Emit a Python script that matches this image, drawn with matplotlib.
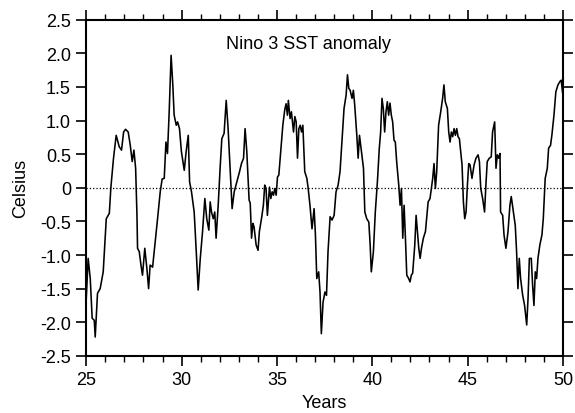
import matplotlib
matplotlib.use("Agg")
import matplotlib.pyplot as plt
from matplotlib.ticker import MultipleLocator

plt.rcParams["font.family"] = ["Liberation Sans", "DejaVu Sans"]

# Data: Nino 3 SST anomaly, model years 25-50
years = [
    25.00, 25.10, 25.21, 25.31, 25.42, 25.47, 25.59, 25.73, 25.89, 26.05,
    26.21, 26.29, 26.43, 26.57, 26.73, 26.85, 26.96, 27.06, 27.20, 27.31,
    27.41, 27.50, 27.59, 27.66, 27.69, 27.78, 27.87, 27.95, 28.07, 28.18,
    28.27, 28.35, 28.48, 28.60, 28.74, 28.88, 28.98, 29.09,
    29.18, 29.26, 29.35, 29.45, 29.54, 29.61, 29.72, 29.79, 29.89, 29.99,
    30.14, 30.24, 30.35, 30.42, 30.52, 30.66, 30.77, 30.87, 30.98, 31.10,
    31.22, 31.32, 31.43, 31.50, 31.57, 31.66, 31.74, 31.81, 31.92, 32.02,
    32.11, 32.23, 32.34, 32.44, 32.55, 32.65, 32.76, 32.90, 33.04, 33.14,
    33.25, 33.33,
    33.42, 33.48, 33.54, 33.60, 33.67, 33.74, 33.80, 33.91, 34.01, 34.08,
    34.19, 34.29, 34.36, 34.43, 34.50, 34.61, 34.68, 34.75, 34.82, 34.89,
    34.96, 35.03, 35.10, 35.20, 35.31, 35.41, 35.48, 35.55, 35.60, 35.69,
    35.76, 35.87, 35.94, 36.01, 36.08, 36.15, 36.22, 36.29, 36.36, 36.46,
    36.57, 36.64, 36.74, 36.84, 36.95, 37.02, 37.09, 37.19, 37.26, 37.33,
    37.42, 37.52, 37.60,
    37.68, 37.79, 37.89, 38.00, 38.10, 38.21, 38.31, 38.42, 38.52, 38.63,
    38.70, 38.77, 38.84, 38.94, 39.01, 39.08, 39.19, 39.26, 39.33, 39.43,
    39.54, 39.61, 39.71, 39.82, 39.89, 39.95, 40.06, 40.16, 40.27, 40.37,
    40.44, 40.51, 40.58, 40.65, 40.72, 40.79, 40.86, 40.93, 41.00, 41.07,
    41.14, 41.21, 41.28, 41.39, 41.46, 41.53, 41.60, 41.67, 41.74, 41.81,
    41.91, 41.98, 42.05, 42.12, 42.23, 42.30, 42.37, 42.44, 42.51, 42.58,
    42.68, 42.79, 42.85, 42.93, 43.03, 43.10, 43.17, 43.24, 43.31, 43.38,
    43.48, 43.59, 43.69, 43.76, 43.83, 43.94, 44.01, 44.08, 44.15, 44.22,
    44.29, 44.36, 44.43, 44.50, 44.57, 44.64, 44.71, 44.78, 44.85, 44.92,
    44.99, 45.06, 45.13, 45.23, 45.34, 45.44, 45.55, 45.62, 45.69, 45.79,
    45.89, 45.96,
    46.03, 46.14, 46.24, 46.31, 46.42, 46.49, 46.56, 46.63, 46.70, 46.73,
    46.84, 46.91, 47.01, 47.12, 47.22, 47.29, 47.40, 47.50, 47.57, 47.64,
    47.71, 47.78, 47.89, 47.99, 48.10, 48.17, 48.24, 48.34, 48.41, 48.48,
    48.55, 48.62, 48.69, 48.79, 48.90, 48.97, 49.07, 49.18, 49.25, 49.35,
    49.42, 49.53, 49.63, 49.74, 49.84, 49.91, 49.98,
]
anomaly = [
    -1.65, -1.05, -1.35, -1.94, -1.97, -2.22, -1.57, -1.50, -1.25, -0.46,
    -0.38, 0.00, 0.44, 0.78, 0.61, 0.56, 0.83, 0.87, 0.83, 0.63,
    0.39, 0.56, 0.29, -0.41, -0.90, -0.95, -1.15, -1.30, -0.90, -1.20,
    -1.50, -1.15, -1.18, -0.85, -0.46, -0.06, 0.13, 0.14,
    0.68, 0.51, 1.13, 1.97, 1.53, 1.08, 0.93, 0.98, 0.88, 0.54,
    0.26, 0.54, 0.78, 0.09, -0.06, -0.36, -0.95, -1.52, -1.05, -0.65,
    -0.16, -0.46, -0.63, -0.21, -0.36, -0.46, -0.36, -0.75, -0.26, 0.29,
    0.73, 0.81, 1.30, 0.88, 0.24, -0.31, -0.06, 0.09, 0.24, 0.36,
    0.44, 0.88,
    0.54, 0.19, -0.18, -0.23, -0.75, -0.53, -0.58, -0.85, -0.93, -0.65,
    -0.46, -0.26, 0.04, -0.01, -0.41, 0.01, -0.16, -0.06, -0.11, -0.01,
    -0.11, 0.16, 0.19, 0.54, 0.93, 1.16, 1.25, 1.08, 1.30, 1.03,
    1.13, 0.83, 1.06, 0.98, 0.44, 0.88, 0.93, 0.83, 0.93, 0.24,
    0.14, -0.01, -0.28, -0.61, -0.31, -0.70, -1.35, -1.25, -1.55, -2.17,
    -1.70, -1.55, -1.60,
    -0.95, -0.43, -0.48, -0.41, -0.06, 0.04, 0.24, 0.73, 1.18, 1.38,
    1.68, 1.48, 1.45, 1.33, 1.45, 1.23, 0.78, 0.44, 0.78, 0.54,
    0.29, -0.36, -0.46, -0.51, -0.85, -1.25, -0.95, -0.36, 0.09, 0.59,
    0.83, 1.33, 1.18, 0.83, 1.13, 1.28, 1.08, 1.26, 1.08, 0.98,
    0.71, 0.68, 0.39, 0.04, -0.26, -0.01, -0.75, -0.26, -0.75, -1.30,
    -1.35, -1.40, -1.30, -1.27, -0.85, -0.41, -0.65, -0.90, -1.05, -0.90,
    -0.75, -0.65, -0.46, -0.21, -0.16, -0.01, 0.14, 0.36, -0.01, 0.24,
    0.93, 1.13, 1.33, 1.53, 1.28, 1.18, 0.83, 0.68, 0.83, 0.76,
    0.88, 0.78, 0.88, 0.76, 0.73, 0.54, 0.34, -0.21, -0.46, -0.36,
    0.04, 0.36, 0.34, 0.14, 0.34, 0.44, 0.49, 0.39, -0.01, -0.16,
    -0.36, 0.04,
    0.39, 0.44, 0.46, 0.83, 0.98, 0.29, 0.49, 0.44, 0.51, -0.36,
    -0.41, -0.70, -0.90, -0.65, -0.26, -0.13, -0.36, -0.56, -0.95, -1.50,
    -1.05, -1.35, -1.60, -1.75, -2.04, -1.65, -1.05, -1.05, -1.45, -1.75,
    -1.25, -1.35, -1.05, -0.85, -0.70, -0.46, 0.14, 0.29, 0.59, 0.63,
    0.78, 1.08, 1.43, 1.53, 1.58, 1.60, 1.42,
]

fig = plt.figure(figsize=(5.75, 4.14), dpi=100)
ax = fig.add_axes([0.150, 0.138, 0.829, 0.812])

ax.axhline(0, color="black", linestyle=":", linewidth=0.9)
ax.plot(years, anomaly, color="black", linewidth=1.15)

ax.set_xlim(25, 50)
ax.set_ylim(-2.5, 2.5)
ax.xaxis.set_major_locator(MultipleLocator(5))
ax.xaxis.set_minor_locator(MultipleLocator(1))
ax.yaxis.set_major_locator(MultipleLocator(0.5))
ax.yaxis.set_major_formatter(plt.FuncFormatter(lambda v, p: f"{v:.1f}" if abs(v) > 1e-9 else "0"))

ax.tick_params(axis="both", which="major", direction="out", length=7, width=1.2,
               labelsize=13, top=True, right=True, pad=4)
ax.tick_params(axis="x", which="minor", direction="out", length=4, width=1.0,
               top=True)
for s in ax.spines.values():
    s.set_linewidth(1.5)

ax.set_xlabel("Years", fontsize=13, labelpad=4)
ax.set_ylabel("Celsius", fontsize=13, labelpad=8)
ax.text(0.467, 0.93, "Nino 3 SST anomaly", transform=ax.transAxes,
        ha="center", va="center", fontsize=13)

fig.savefig("out.png", dpi=100)
